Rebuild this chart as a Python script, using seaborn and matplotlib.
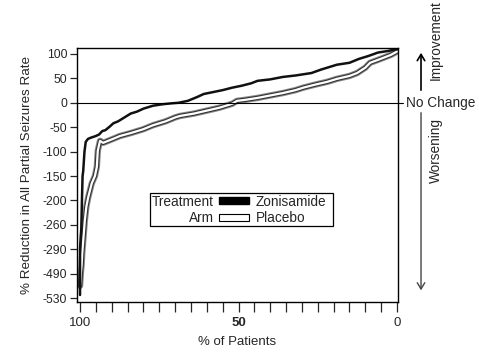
import numpy as np
import pandas as pd
import matplotlib
matplotlib.use("Agg")
import matplotlib.pyplot as plt
import matplotlib.patheffects as pe
from matplotlib.patches import Patch, Rectangle
import seaborn as sns

# --- data ---
zon_pct = [100, 100, 99.8, 99.6, 99.4, 99.2, 99.0, 98.6, 98.2, 97.5, 96.8, 95.0, 94.0, 93.0,
           92.0, 90.5, 89.5, 88.0, 86.0, 84.0, 82.0, 80.0, 77.0, 74.0, 71.0, 69.0, 66.0, 63.0,
           61.0, 58.0, 55.0, 52.0, 49.0, 46.0, 44.0, 40.0, 36.0, 32.0, 27.0, 24.0, 21.0, 19.0,
           15.0, 12.0, 9.0, 6.0, 3.0, 0.0]
zon_val = [-525, -290, -275, -265, -200, -150, -140, -100, -80, -74, -72, -68, -65, -58,
           -56, -48, -42, -38, -30, -22, -18, -12, -6, -3, -1, 0, 4, 12,
           18, 22, 26, 31, 35, 40, 45, 48, 53, 56, 61, 68, 74, 78,
           82, 90, 96, 103, 106, 110]

pla_pct = [100, 99.7, 99.5, 99.3, 99.0, 98.5, 98.0, 97.4, 96.3, 95.3, 94.7, 94.4, 93.7,
           92.7, 90.0, 87.4, 84.0, 80.0, 77.0, 73.0, 70.0, 68.5, 64.0, 60.0, 56.0, 52.0,
           50.5, 48.0, 44.0, 40.0, 36.0, 32.0, 29.6, 26.0, 22.0, 19.0, 15.0, 12.6, 10.0,
           8.5, 6.0, 4.4, 2.0, 0.0]
pla_val = [-510, -470, -420, -320, -280, -250, -215, -193, -165, -150, -131, -98, -78,
           -82, -75, -68, -62, -54, -46, -38, -30, -27, -22, -16, -10, -2,
           4, 6, 10, 15, 20, 26, 31, 37, 43, 49, 55, 61, 72,
           82, 88, 92, 98, 105]

y_ticks = [100, 50, 0, -50, -100, -150, -200, -260, -290, -490, -530]

df = pd.concat([
    pd.DataFrame({"pct": zon_pct, "val": zon_val, "arm": "Zonisamide"}),
    pd.DataFrame({"pct": pla_pct, "val": pla_val, "arm": "Placebo"}),
])

# broken (piecewise) y scale: equal spacing between the tick values
yv = [-570] + sorted(y_ticks) + [150]
yi = list(range(-1, len(y_ticks) + 1))
def fwd(v):
    return np.interp(v, yv, yi)
def inv(p):
    return np.interp(p, yi, yv)

sns.set_style("ticks")
plt.rcParams["font.family"] = ["Liberation Sans", "DejaVu Sans"]
plt.rcParams["font.size"] = 9

fig = plt.figure(figsize=(4.79, 3.6), dpi=100)
ax = fig.add_axes([0.1608, 0.1611, 0.6701, 0.7056])
ax.set_yscale("function", functions=(fwd, inv))

sns.lineplot(data=df[df.arm == "Placebo"], x="pct", y="val", sort=False, estimator=None,
             color="white", lw=1.6, ax=ax,
             path_effects=[pe.Stroke(linewidth=4.6, foreground="#8a8a8a"),
                           pe.Stroke(linewidth=3.2, foreground="#333333"), pe.Normal()])
sns.lineplot(data=df[df.arm == "Zonisamide"], x="pct", y="val", sort=False, estimator=None,
             color="#111111", lw=1.8, ax=ax)

ax.set_xlim(100.95, -0.3)
ax.set_ylim(-536.5, 112.3)
ax.set_yticks(y_ticks)
ax.set_yticklabels([str(t) for t in y_ticks])
ax.set_xticks([100, 50, 0])
ax.set_xticklabels(["100", "50", "0"])
ax.get_xticklabels()[1].set_fontweight("bold")
ax.set_xticks(np.arange(0, 101, 5), minor=True)
ax.tick_params(axis="x", which="both", length=7, width=0.9, direction="out", pad=4, labelsize=9.5)
ax.tick_params(axis="y", length=5, width=0.9, direction="out", pad=2, labelsize=8.8)
ax.yaxis.set_minor_locator(matplotlib.ticker.NullLocator())
for s in ax.spines.values():
    s.set_linewidth(1.0)
    s.set_color("black")

ax.set_xlabel("% of Patients", fontsize=9.5, labelpad=5)
ax.set_ylabel("% Reduction in All Partial Seizures Rate", fontsize=9.6, labelpad=7)

ax.axhline(0, xmin=0, xmax=1.015, color="black", lw=0.8, clip_on=False)

# right-side annotations
ax.text(1.024, 0, "No Change", transform=ax.get_yaxis_transform(),
        ha="left", va="center", fontsize=9.8)
ax.annotate("", xy=(1.0717, 0.992), xytext=(1.0717, 0.823), xycoords="axes fraction",
            arrowprops=dict(arrowstyle="->,head_length=0.5,head_width=0.3", lw=1.2, color="black"),
            annotation_clip=False)
ax.annotate("", xy=(1.0717, 0.035), xytext=(1.0717, 0.756), xycoords="axes fraction",
            arrowprops=dict(arrowstyle="->,head_length=0.5,head_width=0.3", lw=1.0, color="#444444"),
            annotation_clip=False)
fig.text(436 / 479, 1 - 40 / 360, "Improvement", rotation=90, ha="center", va="center", fontsize=9.8)
fig.text(436 / 479, 1 - 150 / 360, "Worsening", rotation=90, ha="center", va="center", fontsize=9.8)

# legend
ax.add_patch(Rectangle((0.227, 0.299), 0.570, 0.130, transform=ax.transAxes,
                       fill=False, lw=0.9, edgecolor="black", zorder=5))
ax.text(0.4268, 0.394, "Treatment", transform=ax.transAxes, ha="right", va="center", fontsize=9.8)
ax.text(0.4268, 0.331, "Arm", transform=ax.transAxes, ha="right", va="center", fontsize=9.8)
handles = [Patch(facecolor="black", edgecolor="black"),
           Patch(facecolor="white", edgecolor="black", lw=0.8)]
ax.legend(handles, ["Zonisamide", "Placebo"], loc="center left", bbox_to_anchor=(0.443, 0.362),
          frameon=False, handlelength=2.2, handleheight=0.4, handletextpad=0.5,
          labelspacing=0.2, borderpad=0, borderaxespad=0, fontsize=9.8)

fig.savefig("out.png", dpi=100)
